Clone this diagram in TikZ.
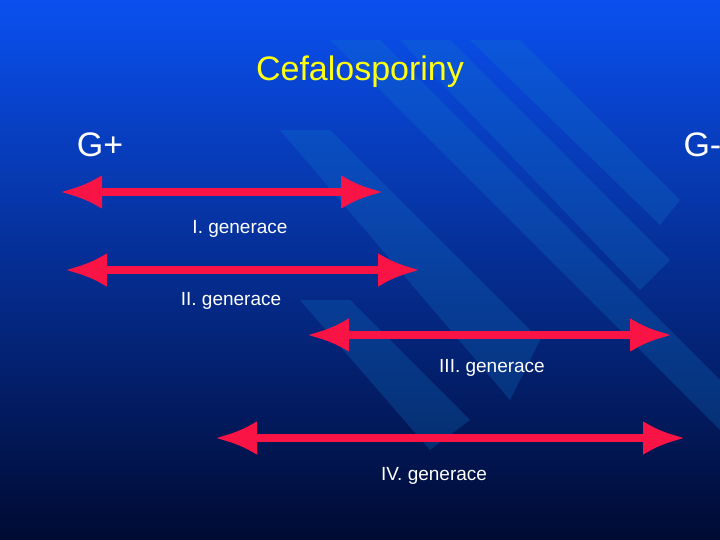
\documentclass[tikz,border=0pt]{standalone}
\usepackage{fontspec}
\setmainfont{Liberation Sans}
\usetikzlibrary{arrows.meta,positioning}
\definecolor{slideblue}{RGB}{10,80,240}
\definecolor{slidedark}{RGB}{0,10,50}
\definecolor{arrowred}{RGB}{250,20,70}
\definecolor{titleyellow}{RGB}{255,255,20}
\tikzset{
  gen/.style={line width=8pt,draw=arrowred,{Latex[length=42pt,width=34pt]}-{Latex[length=42pt,width=34pt]}},
  genlabel/.style={text=white,font=\fontsize{19}{22}\selectfont},
  stripe/.style={fill=cyan!60!blue,opacity=0.25,draw=none}
}
\begin{document}
\begin{tikzpicture}[x=1pt,y=-1pt]
	\shade[top color=slideblue,bottom color=slidedark] (0,0) rectangle (720,540);
	\useasboundingbox (0,0) rectangle (720,540);
	% diagonal stripes
	\fill[stripe] (330,40) -- (380,40) -- (720,380) -- (720,430) -- cycle;
	\fill[stripe] (400,40) -- (450,40) -- (670,260) -- (640,290) -- cycle;
	\fill[stripe] (470,40) -- (520,40) -- (680,200) -- (660,225) -- cycle;
	\fill[stripe] (280,130) -- (330,130) -- (540,340) -- (510,400) -- cycle;
	\fill[stripe] (300,300) -- (350,300) -- (470,420) -- (430,450) -- cycle;
	\node (title) [text=titleyellow,font=\fontsize{34}{40}\selectfont] at (360,72) {Cefalosporiny};
	\node (gplus) [text=white,font=\fontsize{34}{40}\selectfont] at (100,145) {G+};
	\node (gminus) [text=white,font=\fontsize{34}{40}\selectfont,anchor=west] at (680,145) {G-};
	\coordinate (a1) at (60,192);  \coordinate (b1) at (383,192);
	\coordinate (a2) at (65,270);  \coordinate (b2) at (420,270);
	\coordinate (a3) at (307,335); \coordinate (b3) at (672,335);
	\coordinate (a4) at (215,438); \coordinate (b4) at (685,438);
	\draw[gen] (a1) -- (b1);
	\draw[gen] (a2) -- (b2);
	\draw[gen] (a3) -- (b3);
	\draw[gen] (a4) -- (b4);
	\node (l1) [genlabel] at (240,229) {I. generace};
	\node (l2) [genlabel] at (231,301) {II. generace};
	\node (l3) [genlabel] at (492,368) {III. generace};
	\node (l4) [genlabel] at (434,476) {IV. generace};
\end{tikzpicture}
\end{document}
